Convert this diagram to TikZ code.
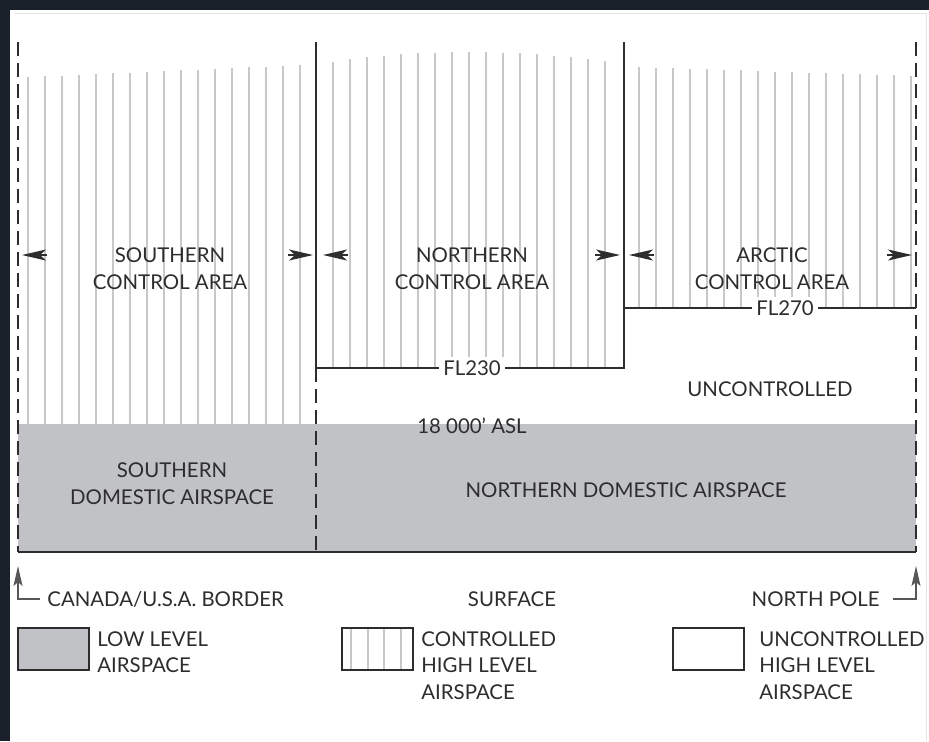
\documentclass[tikz,border=0pt]{standalone}
\usepackage{fontspec}
\setmainfont{Lato}
\usetikzlibrary{arrows.meta}
\definecolor{ink}{RGB}{45,45,45}
\definecolor{lowgray}{RGB}{192,194,197}
\definecolor{hatchgray}{RGB}{200,200,200}
\definecolor{screen}{RGB}{27,33,42}

\begin{document}
\begin{tikzpicture}[x=0.5pt, y=-0.5pt, font=\fontsize{10.2}{13.25}\selectfont,
  every node/.style={text=ink},
  bound/.style={draw=ink, line width=1pt},
  dashbound/.style={bound, dash pattern=on 7pt off 3.5pt},
  hatch/.style={draw=hatchgray, line width=0.7pt},
  dimtip/.style={draw=ink, line width=0.8pt, -{Stealth[length=12pt, width=5.5pt, inset=3pt]}},
  pointer/.style={draw=ink!80, line width=0.6pt, -{Stealth[length=10pt, width=4.5pt, inset=2pt]}},
  flag/.style={fill=white, inner sep=2pt},
  keybox/.style={draw=ink, line width=1pt},
  lbl/.style={align=center, inner sep=0pt},
  keytxt/.style={align=left, anchor=west, inner sep=0pt}]
  \useasboundingbox (0,0) rectangle (929,741);
  % screen frame and page
  \fill[screen] (0,0) rectangle (929,741);
  \fill[white] (10,10) rectangle (929,741);
  \draw[gray!20, line width=0.4pt] (15,13) -- (926,13) -- (926,741);

  % LOW LEVEL BAND
  \fill[lowgray] (18,424) rectangle (916,552);

  % hatching, one run per control area
  \foreach \x in {28,45,...,300}
    \draw[hatch] (\x,{77-(\x-28)*12/272}) -- (\x,424);
  \foreach \x in {333,350,...,605}
    \draw[hatch] (\x,{52+10*((\x-470)/140)^2}) -- (\x,368);
  \foreach \x in {639,656,...,911}
    \draw[hatch] (\x,{67+(\x-639)*9/272}) -- (\x,308);

  % boundaries
  \draw[dashbound] (18,42) -- (18,552);
  \draw[dashbound] (916,42) -- (916,552);
  \draw[bound] (316,42) -- (316,368) -- (624,368) -- (624,42);
  \draw[dashbound] (316,368) -- (316,552);
  \draw[bound] (624,308) -- (916,308);
  \draw[bound, line width=1.3pt] (18,552) -- (916,552);
  \node[flag] (fl230) at (472,368) {FL230};
  \node[flag] (fl270) at (785,308) {FL270};

  % width markers
  \foreach \tip/\dir in {22/1, 313/-1, 323/1, 620/-1, 629/1, 912/-1}
    \draw[dimtip] ({\tip+25*\dir},255) -- (\tip,255);

  % area names
  \node[lbl] (southca) at (170,268.5) {SOUTHERN\\CONTROL AREA};
  \node[lbl] (northca) at (472,268.5) {NORTHERN\\CONTROL AREA};
  \node[lbl] (arcticca) at (772,268.5) {ARCTIC\\CONTROL AREA};
  \node[lbl] (uncontrolled) at (770,389) {UNCONTROLLED};
  \node[lbl] (asl) at (472,426) {18 000' ASL};
  \node[lbl] (southdom) at (172,483.5) {SOUTHERN\\DOMESTIC AIRSPACE};
  \node[lbl] (northdom) at (626,490) {NORTHERN DOMESTIC AIRSPACE};

  % ends of the strip
  \node[keytxt] (border) at (47,599) {CANADA/U.S.A. BORDER};
  \node[lbl] (surface) at (512,599) {SURFACE};
  \node[lbl, anchor=east] (pole) at (880,599) {NORTH POLE};
  \coordinate (bordertip) at (18,566);
  \coordinate (poletip) at (916,566);
  \draw[pointer] ([xshift=-3.5pt]border.west) -| (bordertip);
  \draw[pointer] ([xshift=6.5pt]pole.east) -| (poletip);

  % key
  \draw[keybox, fill=lowgray] (18,628) rectangle (89,670);
  \node[keytxt] (lowkey) at (97,652) {LOW LEVEL\\AIRSPACE};
  \foreach \x in {351,368,384,401}
    \draw[hatch] (\x,628) -- (\x,670);
  \draw[keybox] (342,628) rectangle (413,670);
  \node[keytxt] (ctlkey) at (421,665.5) {CONTROLLED\\HIGH LEVEL\\AIRSPACE};
  \draw[keybox] (673,628) rectangle (744,670);
  \node[keytxt] (unctlkey) at (759,665.5) {UNCONTROLLED\\HIGH LEVEL\\AIRSPACE};
\end{tikzpicture}
\end{document}
